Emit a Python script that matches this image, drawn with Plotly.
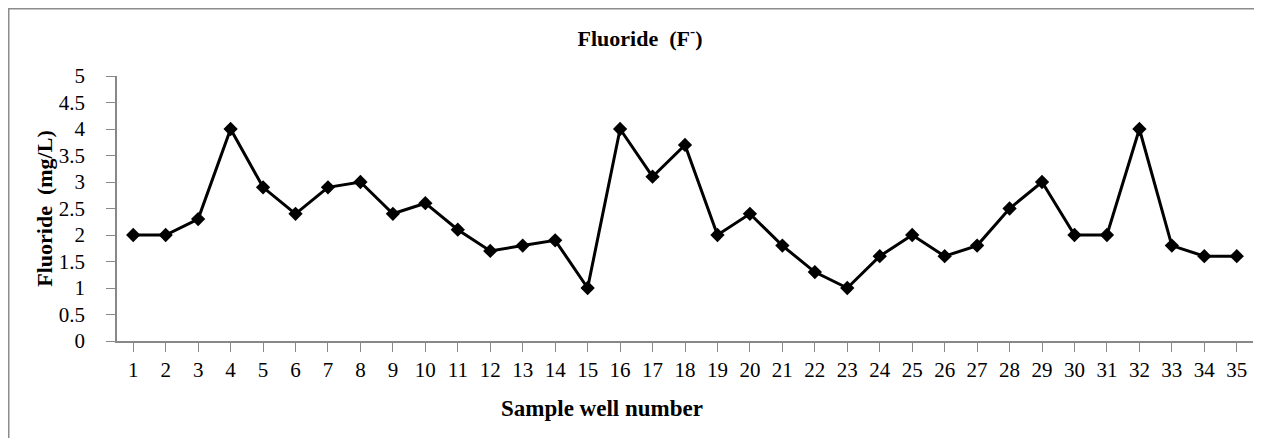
import plotly.graph_objects as go

wells = list(range(1, 36))
fluoride = [2, 2, 2.3, 4, 2.9, 2.4, 2.9, 3, 2.4, 2.6, 2.1, 1.7, 1.8, 1.9, 1,
            4, 3.1, 3.7, 2, 2.4, 1.8, 1.3, 1, 1.6, 2, 1.6, 1.8, 2.5, 3, 2,
            2, 4, 1.8, 1.6, 1.6]
y_ticks = [0, 0.5, 1, 1.5, 2, 2.5, 3, 3.5, 4, 4.5, 5]
y_labels = ["0", "0.5", "1", "1.5", "2", "2.5", "3", "3.5", "4", "4.5", "5"]

# the page body adds an 8px offset; figure sized to fit the window
W, H = 1254, 430
L, R, T, B = 109, 9, 68, 97
pw, ph = W - L - R, H - T - B

FONT = "Liberation Serif, Times New Roman, serif"

fig = go.Figure(go.Scatter(
    x=wells, y=fluoride, mode="lines+markers",
    line=dict(color="black", width=3),
    marker=dict(symbol="diamond", size=11, color="black"),
    showlegend=False,
))

def px_x(p):
    return (p - L) / pw

def px_y(p):
    return (H - B - p) / ph

fig.update_layout(
    width=W, height=H,
    margin=dict(l=L, r=R, t=T, b=B),
    paper_bgcolor="white", plot_bgcolor="white",
    font=dict(family=FONT, color="black", size=21),
    title=dict(text="<b>Fluoride  (F<sup>-</sup>)</b>", font=dict(size=22, family=FONT),
               xref="container", yref="container", x=632 / W, y=1 - 30 / H,
               xanchor="center", yanchor="middle"),
    xaxis=dict(range=[0.5, 35.5], tickvals=wells, ticktext=[str(w) for w in wells],
               showgrid=False, zeroline=False, showline=True, linecolor="#888888",
               linewidth=1.5, ticks="outside", ticklen=9, tickcolor="#888888",
               tickfont=dict(size=21), ticklabelstandoff=0),
    yaxis=dict(range=[0, 5], tickvals=y_ticks, ticktext=y_labels,
               showgrid=False, zeroline=False, showline=True, linecolor="#888888",
               linewidth=1.5, ticks="outside", ticklen=9, tickcolor="#888888",
               tickfont=dict(size=21), ticklabelstandoff=17,
               title=dict(text="<b>Fluoride  (mg/L)</b>", font=dict(size=22), standoff=0)),
    annotations=[dict(text="<b>Sample well number</b>", xref="paper", yref="paper",
                      x=px_x(594), y=px_y(400), xanchor="center", yanchor="middle",
                      showarrow=False, font=dict(size=23, family=FONT))],
    shapes=[dict(type="rect", xref="paper", yref="paper",
                 x0=px_x(0.75), x1=px_x(1275), y0=px_y(0.75), y1=px_y(450),
                 line=dict(color="#8c8c8c", width=1.5), fillcolor="rgba(0,0,0,0)", layer="below")],
)

fig.write_html("out.html")
